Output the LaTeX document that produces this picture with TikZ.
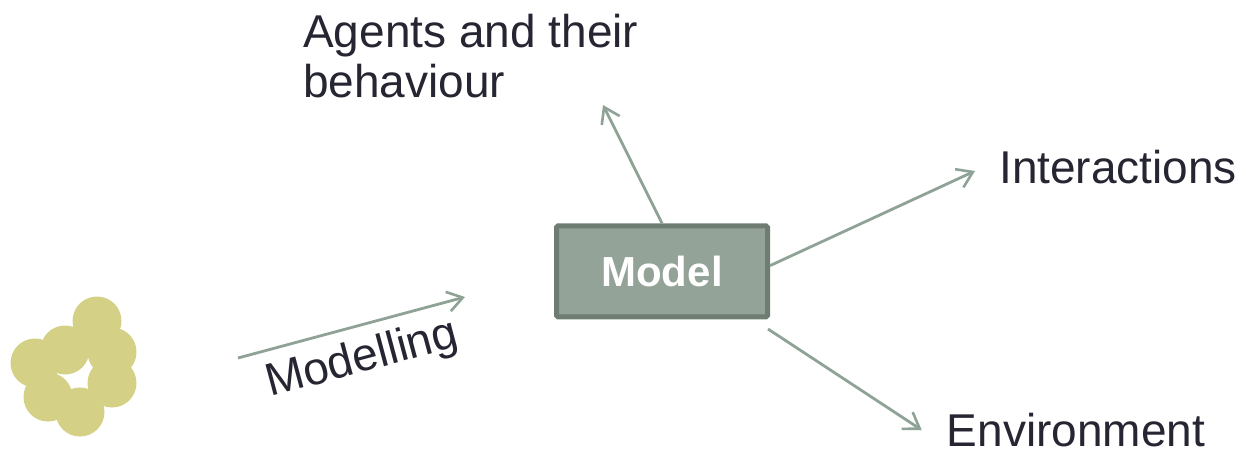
\documentclass[tikz,border=0pt]{standalone}
\usepackage{fontspec}
\setmainfont{Liberation Sans}
\usetikzlibrary{arrows.meta}
\definecolor{linkc}{HTML}{8FA296}
\definecolor{boxfill}{HTML}{93A397}
\definecolor{boxedge}{HTML}{6E7C72}
\definecolor{inkc}{HTML}{262633}
\definecolor{blobc}{HTML}{D4D186}
\begin{document}
\begin{tikzpicture}[x=1pt,y=-1pt,
  link/.style={draw=linkc,line width=2.8pt,-{Straight Barb[length=15pt,width=20pt,line width=2.6pt]}},
  label/.style={inner sep=0pt,text=inkc,font=\fontsize{46}{50}\selectfont},
  modelbox/.style={draw=boxedge,fill=boxfill,line width=5pt,rounded corners=1.5pt,
    minimum width=211pt,minimum height=91pt,inner sep=0pt,text=white,
    font=\fontsize{42}{46}\selectfont\bfseries},
  blob/.style={fill=blobc}]
\useasboundingbox (0,0) rectangle (1246,453);

% cluster of agents
\foreach \cx/\cy in {97/321,112/352,112/383,80/412,48/397,35/363,65/350}
  \fill[blob] (\cx,\cy) circle[radius=24.5pt];

% central model
\node[modelbox] (model) at (662,271.3) {Model};

% labels
\node[label,align=left,anchor=north west] (agents) at (303,13.5) {Agents and their\\behaviour};
\node[label,anchor=base west] (inter) at (999,183.3) {Interactions};
\node[label,anchor=base west] (env) at (946.7,446.7) {Environment};
\node[label,anchor=base west,rotate=15] (modelling) at (270,397) {Modelling};

% connector ends
\coordinate (modStart) at (238,358);
\coordinate (modEnd) at (465,297);
\coordinate (agentsTip) at (603,105);
\coordinate (interTip) at (975,171);
\coordinate (envStart) at (768,329);
\coordinate (envTip) at (921.7,430);

% connectors
\draw[link] (modStart) -- (modEnd);
\draw[link] (model.north) -- (agentsTip);
\draw[link] (model.3.4) -- (interTip);
\draw[link] (envStart) -- (envTip);
\end{tikzpicture}
\end{document}
